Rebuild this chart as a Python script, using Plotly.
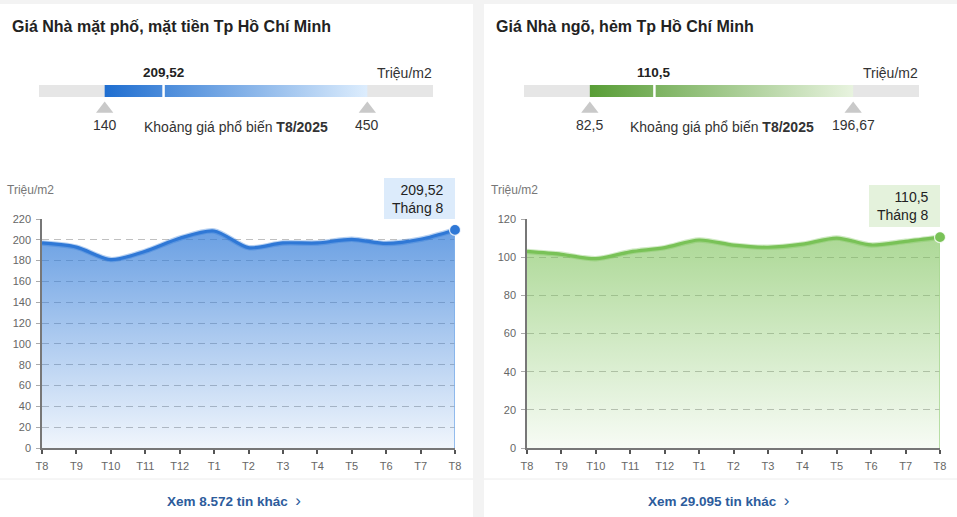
import plotly.graph_objects as go

W, H = 957, 517

# ---------------- data ----------------
months = ["T8", "T9", "T10", "T11", "T12", "T1", "T2", "T3", "T4", "T5", "T6", "T7", "T8"]
pho_values = [197, 193, 181, 189, 201.5, 208.5, 192.5, 197, 197, 200.5, 196.5, 200.5, 209.52]
hem_values = [103, 101.5, 99.2, 102.8, 105, 109, 106.3, 105.2, 106.8, 110, 106.4, 108.3, 110.5]
pho_yticks = [0, 20, 40, 60, 80, 100, 120, 140, 160, 180, 200, 220]
hem_yticks = [0, 20, 40, 60, 80, 100, 120]
pho_range = [140, 450]
hem_range = [82.5, 196.67]
pho_current = 209.52
hem_current = 110.5
pho_listings = "8.572"
hem_listings = "29.095"
period = "T8/2025"
last_month_label = "Tháng 8"
unit = "Triệu/m2"
titles = ["Giá Nhà mặt phố, mặt tiền Tp Hồ Chí Minh", "Giá Nhà ngõ, hẻm Tp Hồ Chí Minh"]

FONT = "Arial, Liberation Sans, sans-serif"


def fx(x):
    return x / W


def fy(y):
    return 1 - y / H


def fmt(v):
    return f"{v:g}".replace(".", ",")


fig = go.Figure()
shapes = []
annotations = []

# card backgrounds
for x0, x1 in [(0, 473), (484, 957)]:
    shapes.append(dict(type="rect", xref="paper", yref="paper", x0=fx(x0), x1=fx(x1),
                       y0=0, y1=fy(4), fillcolor="white", line_width=0, layer="below"))
    shapes.append(dict(type="line", xref="paper", yref="paper", x0=fx(x0), x1=fx(x1),
                       y0=fy(479), y1=fy(479), line=dict(color="#ececec", width=1)))

charts = [
    dict(values=pho_values, yticks=pho_yticks, rng=pho_range, cur=pho_current, listings=pho_listings,
         line="#2f78d6", halo="rgba(47,120,214,0.35)", edge="#7fb0ea",
         fill0="rgba(47,122,216,0.07)", fill1="rgba(47,122,216,0.72)",
         bar0="#1f6ed0", bar1="#ddedfd", tip="#dcebfb",
         cardx=0, barx=(39, 433), tipbox=(384, 455, 178, 219), tiptext=(446, 199)),
    dict(values=hem_values, yticks=hem_yticks, rng=hem_range, cur=hem_current, listings=hem_listings,
         line="#79c257", halo="rgba(121,194,87,0.35)", edge="#a9d893",
         fill0="rgba(122,193,86,0.06)", fill1="rgba(122,193,86,0.62)",
         bar0="#589d36", bar1="#e8f3df", tip="#e4f2dc",
         cardx=484, barx=(524, 919), tipbox=(869, 940, 185, 227), tiptext=(931, 206)),
]

TRI_Y = -1.0
for i, c in enumerate(charts):
    xa = "x" if i == 0 else "x2"
    ya = "y" if i == 0 else "y2"
    xb = "x3" if i == 0 else "x4"
    yb = "y3" if i == 0 else "y4"
    vals = c["values"]
    xs = list(range(len(months)))

    # area
    fig.add_trace(go.Scatter(
        x=xs, y=vals, xaxis=xa, yaxis=ya, mode="lines",
        line=dict(color=c["halo"], width=5.5, shape="spline", smoothing=0.8),
        fill="tozeroy",
        fillgradient=dict(type="vertical", start=0, stop=max(vals),
                          colorscale=[[0, c["fill0"]], [1, c["fill1"]]]),
        hoverinfo="skip", showlegend=False))
    # line
    fig.add_trace(go.Scatter(
        x=xs, y=vals, xaxis=xa, yaxis=ya, mode="lines",
        line=dict(color=c["line"], width=3.2, shape="spline", smoothing=0.8),
        hoverinfo="skip", showlegend=False))
    # right edge of area
    fig.add_trace(go.Scatter(
        x=[xs[-1], xs[-1]], y=[0, vals[-1]], xaxis=xa, yaxis=ya, mode="lines",
        line=dict(color=c["edge"], width=1.6), hoverinfo="skip", showlegend=False, cliponaxis=False))
    # last point marker
    fig.add_trace(go.Scatter(
        x=[xs[-1]], y=[vals[-1]], xaxis=xa, yaxis=ya, mode="markers",
        marker=dict(size=11, color=c["line"], line=dict(color="rgba(255,255,255,0.8)", width=1.2)),
        hoverinfo="skip", showlegend=False, cliponaxis=False))

    # range bar
    lo, hi = c["rng"]
    shapes.append(dict(type="rect", xref=f"{xb} domain", yref=yb, x0=0, x1=1, y0=0, y1=1,
                       fillcolor="#e6e6e6", line_width=0, layer="below"))
    fig.add_trace(go.Scatter(
        x=[lo, hi, hi, lo, lo], y=[0, 0, 1, 1, 0], xaxis=xb, yaxis=yb, mode="lines",
        line=dict(width=0), fill="toself",
        fillgradient=dict(type="horizontal", start=lo, stop=hi,
                          colorscale=[[0, c["bar0"]], [1, c["bar1"]]]),
        hoverinfo="skip", showlegend=False))
    shapes.append(dict(type="line", xref=xb, yref=yb, x0=c["cur"], x1=c["cur"], y0=0, y1=1,
                       line=dict(color="white", width=2.5)))
    fig.add_trace(go.Scatter(
        x=[lo, hi], y=[TRI_Y, TRI_Y], xaxis=xb, yaxis=yb, mode="markers",
        marker=dict(symbol="triangle-up", size=15, color="#c9c9c9"),
        hoverinfo="skip", showlegend=False, cliponaxis=False))
    for v in (lo, hi):
        annotations.append(dict(x=v, xref=xb, y=fy(125), yref="paper", text=fmt(v), showarrow=False,
                                xanchor="center", yanchor="middle", font=dict(size=14, color="#333")))
    annotations.append(dict(x=c["cur"], xref=xb, y=fy(73), yref="paper", text=f"<b>{fmt(c['cur'])}</b>",
                            showarrow=False, xanchor="center", yanchor="middle",
                            font=dict(size=13.5, color="#222")))
    annotations.append(dict(x=fx(c["barx"][1] + 1), xref="paper", y=fy(73), yref="paper", text=unit,
                            showarrow=False, xanchor="right", yanchor="middle",
                            font=dict(size=14, color="#333")))
    annotations.append(dict(x=fx((c["barx"][0] + c["barx"][1]) / 2), xref="paper", y=fy(127), yref="paper",
                            text=f"Khoảng giá phổ biến <b>{period}</b>", showarrow=False,
                            xanchor="center", yanchor="middle", font=dict(size=14, color="#333")))

    # title
    annotations.append(dict(x=fx(c["cardx"] + 10), xref="paper", y=fy(26), yref="paper",
                            text=f"<b>{titles[i]}</b>", showarrow=False, xanchor="left", yanchor="middle",
                            font=dict(size=16, color="#222")))
    # y-axis unit label
    annotations.append(dict(x=fx(c["cardx"] + 5), xref="paper", y=fy(190), yref="paper", text=unit,
                            showarrow=False, xanchor="left", yanchor="middle",
                            font=dict(size=12, color="#777")))
    # tooltip
    tx0, tx1, ty0, ty1 = c["tipbox"]
    shapes.append(dict(type="rect", xref="paper", yref="paper", x0=fx(tx0), x1=fx(tx1), y0=fy(ty1), y1=fy(ty0),
                       fillcolor=c["tip"], line_width=0, layer="above"))
    annotations.append(dict(x=fx(c["tiptext"][0]), xref="paper", y=fy(c["tiptext"][1]), yref="paper",
                            text=f"{fmt(vals[-1])}<br>{last_month_label}", showarrow=False,
                            xanchor="right", yanchor="middle", align="right",
                            font=dict(size=14, color="#222")))
    # footer link
    annotations.append(dict(x=fx(c["cardx"] + (234 if i == 0 else 235)), xref="paper", y=fy(500), yref="paper",
                            text=f"<b>Xem {c['listings']} tin khác</b>  <span style='font-size:17px'>›</span>",
                            showarrow=False, xanchor="center", yanchor="middle",
                            font=dict(size=13.5, color="#2d5c9c")))

common_x = dict(range=[0, 12], tickmode="array", tickvals=list(range(len(months))), ticktext=months,
                showgrid=False, zeroline=False, showline=True, linecolor="#777", linewidth=1.5,
                ticks="outside", ticklen=4, tickcolor="#555", tickwidth=1.5, automargin=False,
                tickfont=dict(size=11, color="#666"), ticklabelstandoff=3, fixedrange=True)
common_y = dict(showgrid=True, gridcolor="rgba(150,150,150,0.6)", griddash="7px,5px", gridwidth=1.2,
                zeroline=False, showline=True, linecolor="#777", linewidth=1.5, automargin=False,
                ticks="outside", ticklen=4, tickcolor="#aaa", tickwidth=1,
                tickfont=dict(size=11, color="#666"), ticklabelstandoff=3, fixedrange=True)
hidden = dict(visible=False, showgrid=False, zeroline=False, fixedrange=True, automargin=False)

# bar strip: y in [0,1] occupies pixels 97..85 (12 px per unit); range extends down for the markers
BAR_LOW = -1.7
bar_dom = [fy(97 + 12 * (-BAR_LOW)), fy(85)]

fig.update_layout(
    width=W, height=H, margin=dict(l=0, r=0, t=0, b=0, pad=0, autoexpand=False),
    paper_bgcolor="#f3f3f3", plot_bgcolor="rgba(0,0,0,0)",
    font=dict(family=FONT, color="#333"), showlegend=False,
    xaxis=dict(domain=[fx(42), fx(455)], anchor="y", **common_x),
    yaxis=dict(domain=[fy(448), fy(219)], anchor="x", range=[0, 220], tickvals=pho_yticks, **common_y),
    xaxis2=dict(domain=[fx(527), fx(940)], anchor="y2", **common_x),
    yaxis2=dict(domain=[fy(448), fy(219)], anchor="x2", range=[0, 120], tickvals=hem_yticks, **common_y),
    xaxis3=dict(domain=[fx(39), fx(433)], anchor="y3",
                range=[pho_range[0] - (pho_range[1] - pho_range[0]) / 4,
                       pho_range[1] + (pho_range[1] - pho_range[0]) / 4], **hidden),
    yaxis3=dict(domain=bar_dom, anchor="x3", range=[BAR_LOW, 1], **hidden),
    xaxis4=dict(domain=[fx(524), fx(919)], anchor="y4",
                range=[hem_range[0] - (hem_range[1] - hem_range[0]) / 4,
                       hem_range[1] + (hem_range[1] - hem_range[0]) / 4], **hidden),
    yaxis4=dict(domain=bar_dom, anchor="x4", range=[BAR_LOW, 1], **hidden),
    shapes=shapes, annotations=annotations,
)

fig.write_html("out.html", config={"displayModeBar": False})
